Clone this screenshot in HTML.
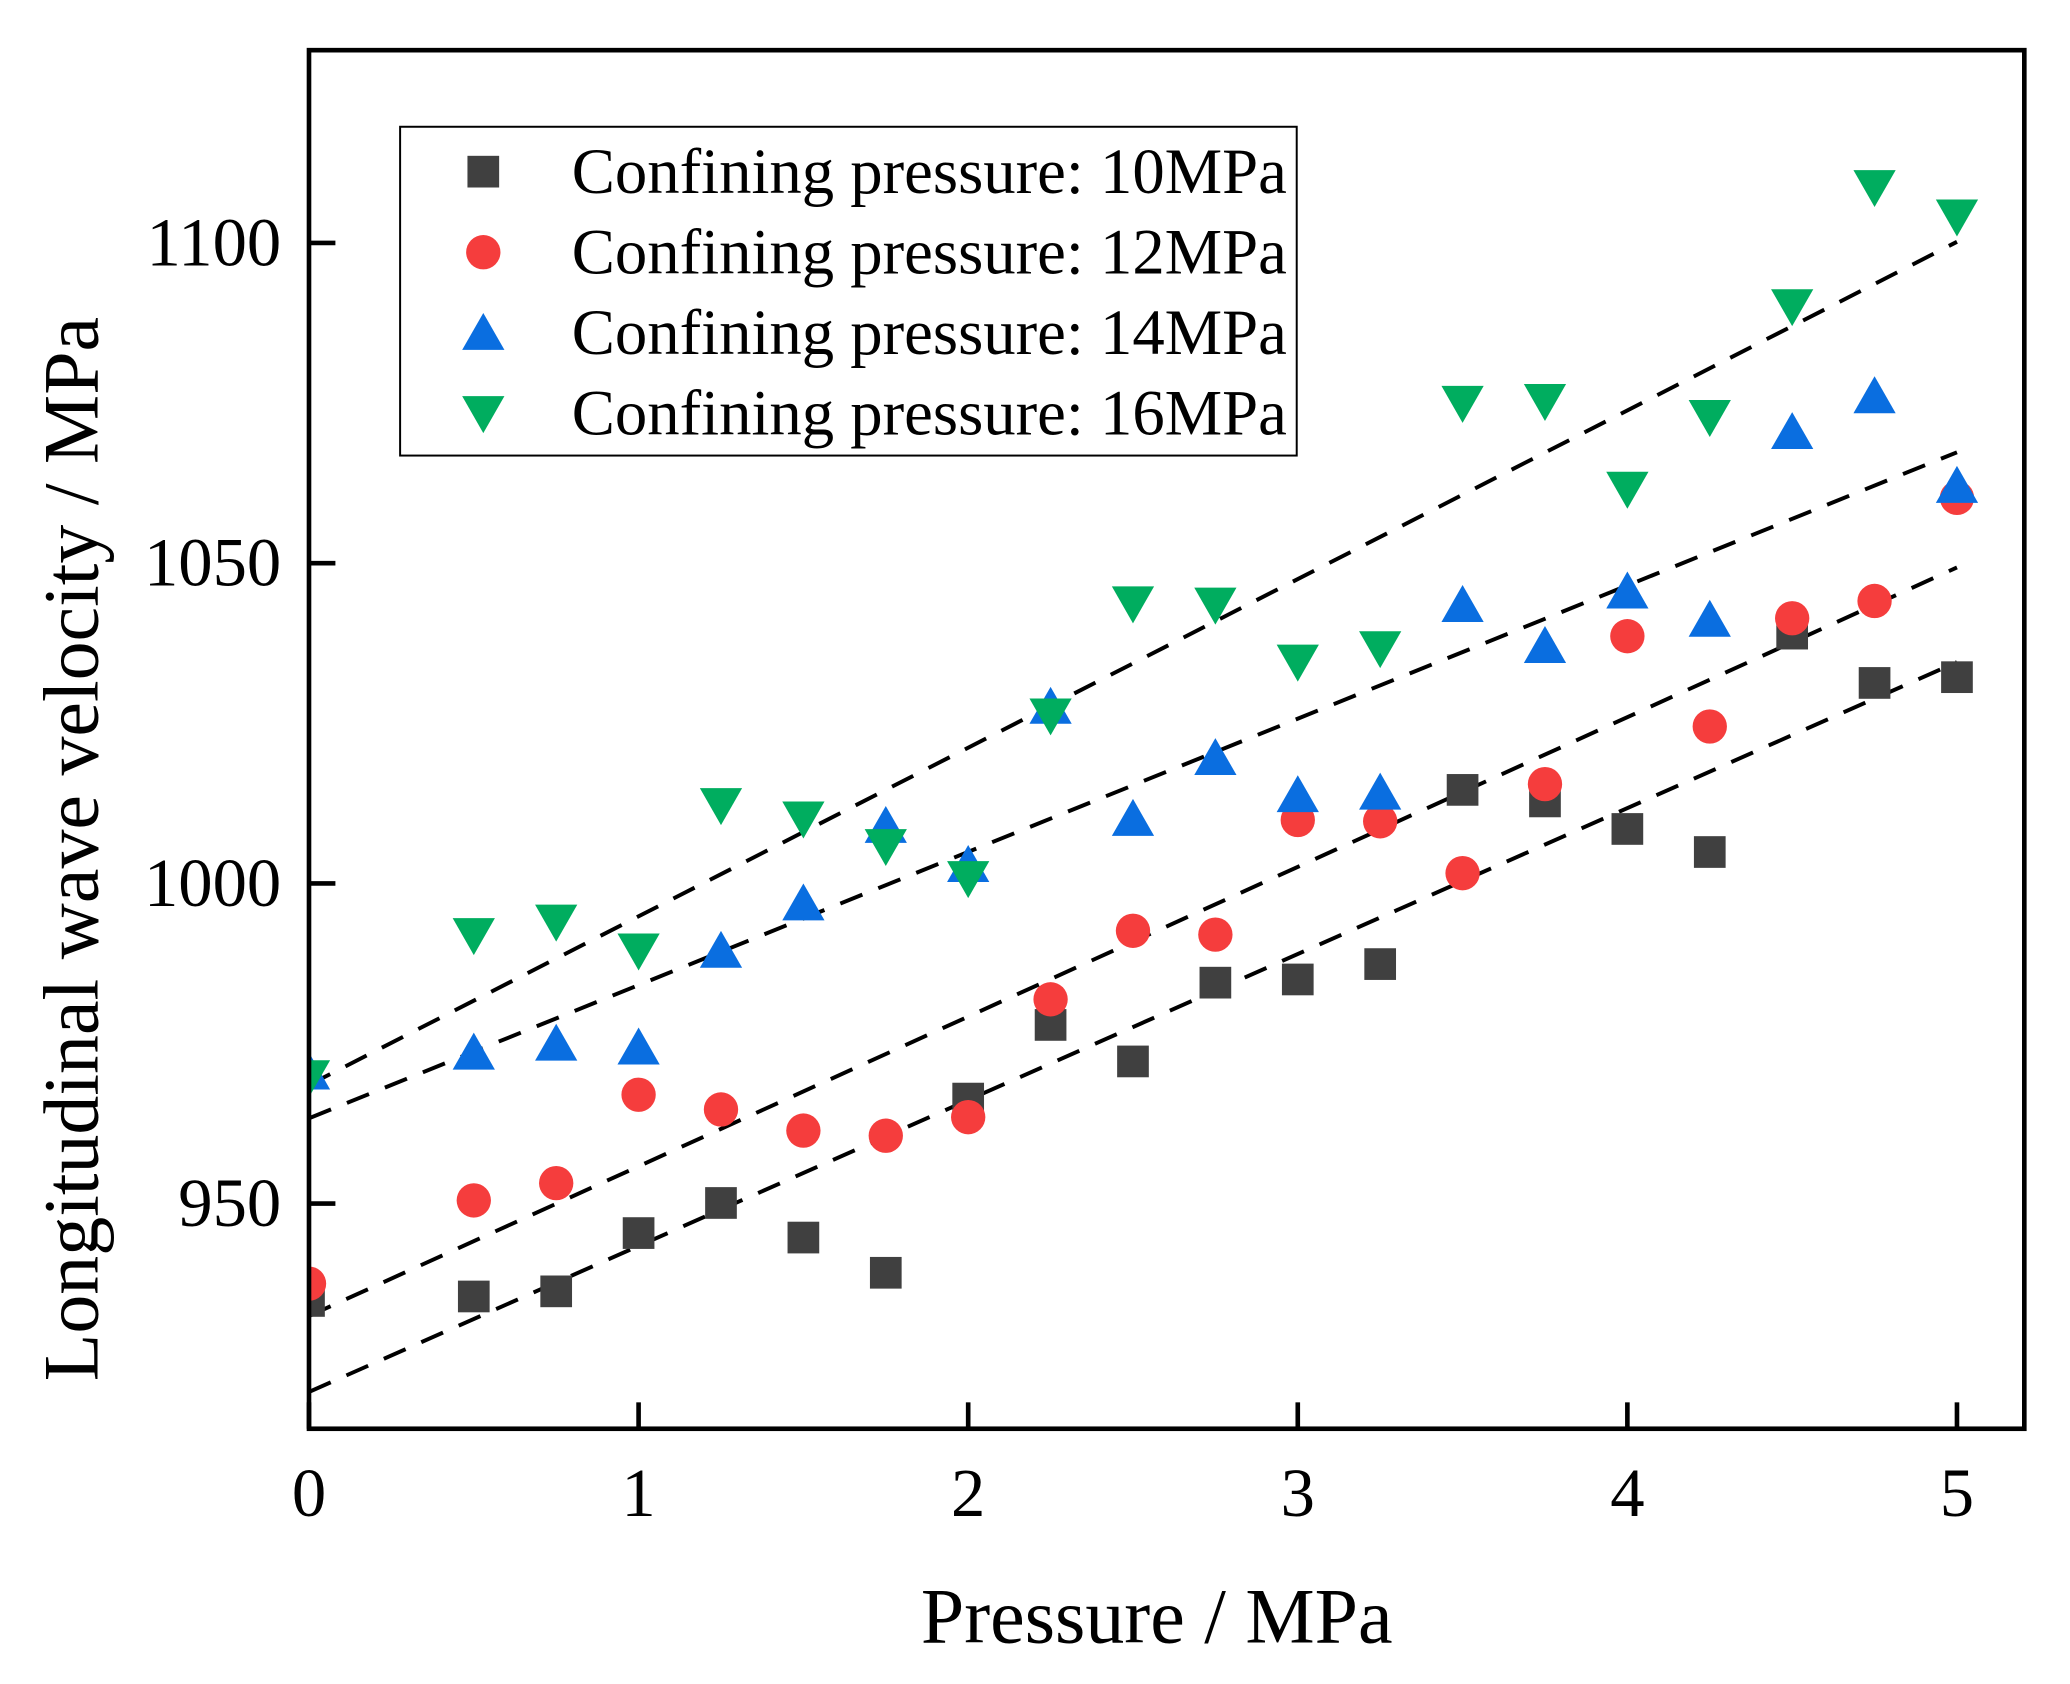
<!DOCTYPE html>
<html><head><meta charset="utf-8"><style>
html,body{margin:0;padding:0;background:#fff;}
svg{display:block;font-family:"Liberation Serif",serif;}
</style></head><body>
<svg id="chart" width="2070" height="1684" viewBox="0 0 1567.6 1275.3" preserveAspectRatio="none" xmlns="http://www.w3.org/2000/svg">
<defs><clipPath id="pc"><rect x="234" y="38" width="1299" height="1044"/></clipPath></defs>
<g id="marks" clip-path="url(#pc)"></g>
<g id="axes"></g>
</svg>
<script>
const xValues=[0,0.5,0.75,1,1.25,1.5,1.75,2,2.25,2.5,2.75,3,3.25,3.5,3.75,4,4.25,4.5,4.75,5];
const s10=[934.8,935.5,936.3,945.4,950.1,944.7,939.2,966.4,977.9,972.2,984.5,985,987.4,1014.6,1012.8,1008.5,1004.9,1039,1031.3,1032.2];
const s12=[937.5,950.5,953.2,967,964.7,961.4,960.6,963.5,981.9,992.6,992,1009.9,1009.7,1001.6,1015.5,1038.6,1024.5,1041.4,1044.1,1060.2];
const s14=[970.5,973.6,975,974.4,989.5,996.9,1009,1002.9,1027.6,1010.1,1019.6,1013.8,1014.2,1043.5,1037.1,1045.6,1041.2,1070.5,1076.1,1062.1];
const s16=[969.7,991.9,994,989.5,1012.2,1010.1,1005.8,1000.8,1026.2,1043.7,1043.5,1034.6,1036.7,1075,1075.3,1061.6,1072.8,1090.1,1108.7,1104.1];
const seriesNames=["Confining pressure: 10MPa","Confining pressure: 12MPa","Confining pressure: 14MPa","Confining pressure: 16MPa"];
const xTicks=[0,1,2,3,4,5];
const yTicks=[950,1000,1050,1100];

const NS="http://www.w3.org/2000/svg";
const X=v=>234+v*249.6;
const Y=v=>669-(v-1000)*4.85;
const marks=document.getElementById('marks'),axes=document.getElementById('axes');
function mk(tag,attrs,parent){const e=document.createElementNS(NS,tag);for(const k in attrs)e.setAttribute(k,attrs[k]);parent.appendChild(e);return e;}
const colors=["#404040","#f53d3d","#0a6ee0","#00ad5f"];
const shapes=["sq","ci","up","dn"];
function marker(shape,cx,cy,color,parent){
  let e;
  if(shape==="sq")e=mk('rect',{x:cx-12,y:cy-12,width:24,height:24,fill:color},parent);
  else if(shape==="ci")e=mk('circle',{cx:cx,cy:cy,r:13,fill:color},parent);
  else if(shape==="up")e=mk('polygon',{points:`${cx},${cy-15} ${cx-16},${cy+13} ${cx+16},${cy+13}`,fill:color},parent);
  else e=mk('polygon',{points:`${cx},${cy+15} ${cx-16},${cy-13} ${cx+16},${cy-13}`,fill:color},parent);
  return e;
}
const allSeries=[s10,s12,s14,s16];
allSeries.forEach((s,i)=>{
  const n=s.length;let mx=0,my=0;for(let j=0;j<n;j++){mx+=xValues[j];my+=s[j];}mx/=n;my/=n;
  let sxy=0,sxx=0;for(let j=0;j<n;j++){sxy+=(xValues[j]-mx)*(s[j]-my);sxx+=(xValues[j]-mx)**2;}
  const b=sxy/sxx,a=my-b*mx;
  const ln=mk('line',{x1:X(0),y1:Y(a),x2:X(5),y2:Y(a+5*b),stroke:"#000","stroke-width":3,"stroke-dasharray":"18,13"},marks);
  
  
});
allSeries.forEach((s,i)=>{
  s.forEach((v,j)=>{
    const m=marker(shapes[i],X(xValues[j]),Y(v),colors[i],marks);
    
    
  });
});
const fr=mk('rect',{x:234,y:38,width:1299,height:1044,fill:"none",stroke:"#000","stroke-width":3.5},axes);


xTicks.forEach(t=>{
  mk('line',{x1:X(t),y1:1082,x2:X(t),y2:1062,stroke:"#000","stroke-width":3.5},axes);
  const tx=mk('text',{x:X(t),y:1148,"font-size":52,"text-anchor":"middle"},axes);tx.textContent=t;
  
  
});
yTicks.forEach(t=>{
  mk('line',{x1:234,y1:Y(t),x2:254,y2:Y(t),stroke:"#000","stroke-width":3.5},axes);
  const tx=mk('text',{x:213,y:Y(t)+17,"font-size":52,"text-anchor":"end"},axes);tx.textContent=t;
  
  
});
const xt=mk('text',{x:876,y:1244,"font-size":59,"text-anchor":"middle"},axes);xt.textContent="Pressure / MPa";


const yt=mk('text',{x:0,y:0,"font-size":59,"text-anchor":"middle",transform:"translate(74,643) rotate(-90)"},axes);yt.textContent="Longitudinal wave velocity / MPa";


const lg=mk('g',{},axes);


mk('rect',{x:303,y:96,width:679,height:249,fill:"#fff",stroke:"#000","stroke-width":1.5},lg);
seriesNames.forEach((nm,i)=>{
  const cy=130+i*61;
  const m=marker(shapes[i],366,cy,colors[i],lg);
  
  
  const t=mk('text',{x:433,y:cy+16,"font-size":49},lg);t.textContent=nm;
  
  
});
</script>
</body></html>
